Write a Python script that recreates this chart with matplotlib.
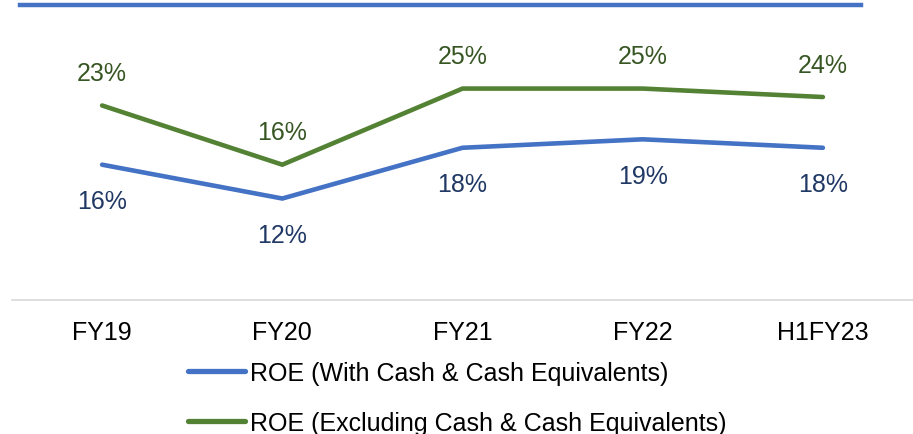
import matplotlib.pyplot as plt
from matplotlib.lines import Line2D

plt.rcParams['font.family'] = ['Liberation Sans', 'DejaVu Sans']

periods = ['FY19', 'FY20', 'FY21', 'FY22', 'H1FY23']
roe_with_cash = [16, 12, 18, 19, 18]
roe_excl_cash = [23, 16, 25, 25, 24]

blue = '#4472C4'
green = '#548235'
blue_text = '#203864'
green_text = '#375623'
fs = 18

fig = plt.figure(figsize=(9.13, 4.35), dpi=100)
ax = fig.add_axes([12 / 913, 134 / 435, 901 / 913, 296 / 435])

x = range(len(periods))
ax.plot(x, roe_with_cash, color=blue, lw=3.3, solid_capstyle='round',
        solid_joinstyle='miter', label='ROE (With Cash & Cash Equivalents)')
ax.plot(x, roe_excl_cash, color=green, lw=3.3, solid_capstyle='round',
        solid_joinstyle='miter', label='ROE (Excluding Cash & Cash Equivalents)')

# value labels: with-cash below the line, excluding-cash above
for i, v in enumerate(roe_with_cash):
    ax.annotate(f'{v}%', (i, v), xytext=(0, -26.3), textcoords='offset points',
                ha='center', va='center', fontsize=fs, color=blue_text)
for i, v in enumerate(roe_excl_cash):
    ax.annotate(f'{v}%', (i, v), xytext=(0, 23.4), textcoords='offset points',
                ha='center', va='center', fontsize=fs, color=green_text)

ax.set_xlim(-0.5, len(periods) - 0.5)
ax.set_ylim(0, 35)
ax.set_xticks(list(x))
ax.set_xticklabels(periods, fontsize=fs)
ax.set_yticks([])
ax.tick_params(axis='x', length=0, pad=14.5)
for side in ['top', 'right', 'left']:
    ax.spines[side].set_visible(False)
ax.spines['bottom'].set_color('#D9D9D9')
ax.spines['bottom'].set_linewidth(1.2)

# header rule across the top
fig.add_artist(Line2D([20 / 913, 861 / 913], [429.5 / 435, 429.5 / 435],
                      color=blue, lw=3.2, transform=fig.transFigure))

leg = fig.legend(loc='center left', bbox_to_anchor=(188 / 913, 36 / 435),
                 frameon=False, fontsize=fs, handlelength=2.28,
                 handletextpad=0.2, labelspacing=1.05, borderpad=0,
                 borderaxespad=0)
for h in leg.legend_handles:
    h.set_linewidth(3.8)

fig.savefig('out.png', dpi=100)
